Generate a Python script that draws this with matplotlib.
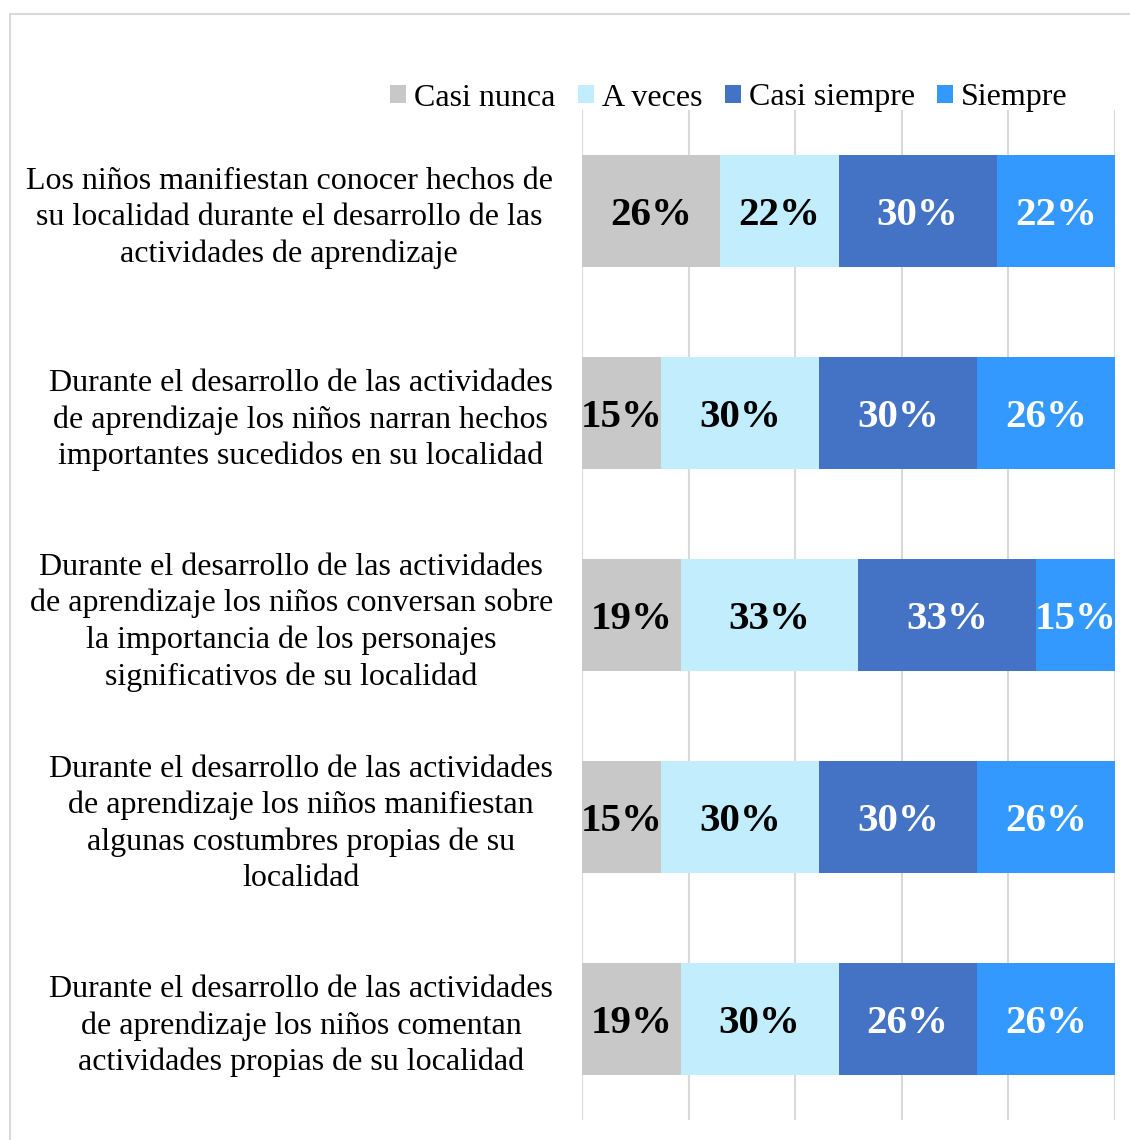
import matplotlib
matplotlib.use("Agg")
import matplotlib.pyplot as plt
from matplotlib.patches import Rectangle
import numpy as np

plt.rcParams['font.family'] = ['Liberation Serif', 'DejaVu Serif']

categories = [
    "Los niños manifiestan conocer hechos de\nsu localidad durante el desarrollo de las\nactividades de aprendizaje",
    "Durante el desarrollo de las actividades\nde aprendizaje los niños narran hechos\nimportantes sucedidos en su localidad",
    "Durante el desarrollo de las actividades\nde aprendizaje los niños conversan sobre\nla importancia de los personajes\nsignificativos de su localidad",
    "Durante el desarrollo de las actividades\nde aprendizaje los niños manifiestan\nalgunas costumbres propias de su\nlocalidad",
    "Durante el desarrollo de las actividades\nde aprendizaje los niños comentan\nactividades propias de su localidad",
]
series_names = ["Casi nunca", "A veces", "Casi siempre", "Siempre"]
casi_nunca = [25.93, 14.81, 18.52, 14.81, 18.52]
a_veces = [22.22, 29.63, 33.33, 29.63, 29.63]
casi_siempre = [29.63, 29.63, 33.33, 29.63, 25.93]
siempre = [22.22, 25.93, 14.81, 25.93, 25.93]
series_values = [casi_nunca, a_veces, casi_siempre, siempre]
colors = ["#C8C8C8", "#C1EDFD", "#4472C4", "#3399FF"]
label_colors = ["black", "black", "white", "white"]

fig = plt.figure(figsize=(11.3, 11.4), dpi=100)
ax = fig.add_axes([582/1130, 20/1140, (1115-582)/1130, 1010/1140])

y = np.arange(len(categories))
left = np.zeros(len(categories))
for name, vals, c, lc in zip(series_names, series_values, colors, label_colors):
    vals = np.array(vals) / 100.0
    bars = ax.barh(y, vals, left=left, height=0.555, color=c, label=name,
                   edgecolor='none', zorder=2)
    texts = ax.bar_label(bars, labels=[f"{v*100:.0f}%" for v in vals], label_type='center',
                         color=lc, fontsize=29.5, fontweight='bold')
    for t in texts:
        t.set_va('center_baseline')
    left += vals

ax.set_xlim(0, 1)
ax.set_ylim(-0.5, len(categories) - 0.5)
ax.invert_yaxis()
ax.set_xticks(np.arange(0, 1.01, 0.2))
ax.set_xticklabels([])
ax.tick_params(axis='x', length=0)
ax.tick_params(axis='y', length=0, pad=21)
ax.set_yticks(y)
ax.set_yticklabels(categories, fontsize=23, ha='right', multialignment='center',
                   linespacing=1.32)
ax.grid(axis='x', color='#D9D9D9', linewidth=1.5, zorder=0)
ax.set_axisbelow(True)
for s in ax.spines.values():
    s.set_visible(False)

leg = fig.legend(loc='center', bbox_to_anchor=(729/1130, 1 - 98/1140), ncol=4,
                 frameon=False, fontsize=23, handlelength=0.5, handleheight=0.5,
                 handletextpad=0.25, columnspacing=0.7, borderaxespad=0)

fig.patches.append(Rectangle((10/1130, -0.05), 1.2, 1.05 - 14/1140,
                             transform=fig.transFigure, fill=False,
                             edgecolor='#D9D9D9', linewidth=1.5))

fig.savefig("out.png", dpi=100)
